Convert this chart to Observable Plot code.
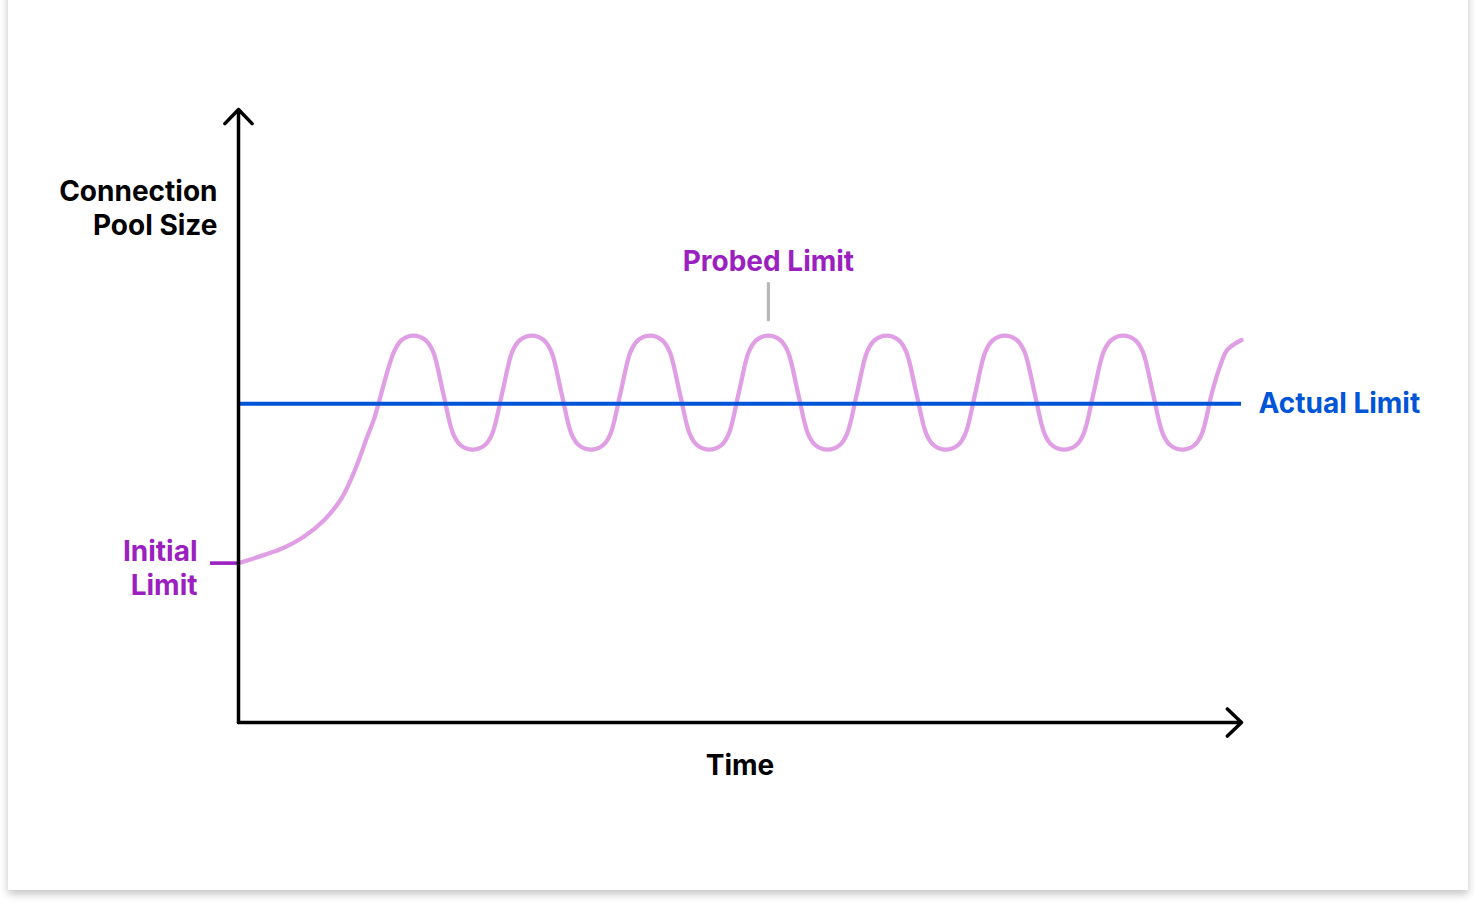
<!DOCTYPE html>
<html>
<head>
<meta charset="utf-8">
<title>Connection pool size over time</title>
<script src="https://cdn.jsdelivr.net/npm/d3@7"></script>
<script src="https://cdn.jsdelivr.net/npm/@observablehq/plot@0.6"></script>
<style>
  html, body { margin: 0; padding: 0; background: #ffffff; width: 1476px; height: 906px; overflow: hidden; }
  .card {
    position: absolute; left: 8px; top: -20px; width: 1460px; height: 910px;
    background: #ffffff;
    box-shadow: 0 4px 8px rgba(0, 0, 0, 0.24);
  }
  #chart { position: absolute; left: 0; top: 0; }
  #chart svg text { font-family: Inter, "Noto Sans", sans-serif; }
</style>
</head>
<body>
<div class="card"></div>
<div id="chart"></div>
<script>
// Time axis runs 0 .. timeEnd, pool size axis 0 .. sizeMax
const timeEnd = 84.8;
const sizeMax = 100;

// Limits
const initialLimit = 26;
const actualLimit = 52;

// Slow start: the pool grows from the initial limit towards the actual limit
const rampUp = [
  [0, 26.0], [2.14, 27.3], [3.83, 28.5], [5.52, 30.3], [7.23, 33.0],
  [8.62, 36.3], [9.47, 39.5], [10.17, 42.8], [10.88, 46.6], [11.44, 49.4]
];

// Probing: the pool overshoots the actual limit, backs off, and probes again
const probing = [
  [13.15, 60.5], [13.8, 62.4], [14.8, 63.1], [15.8, 62.4], [16.45, 60.5], [17.3, 53.8],
  [18.15, 47.1], [18.8, 45.2], [19.8, 44.5], [20.8, 45.2], [21.45, 47.1], [22.3, 53.8],
  [23.15, 60.5], [23.8, 62.4], [24.8, 63.1], [25.8, 62.4], [26.45, 60.5], [27.3, 53.8],
  [28.15, 47.1], [28.8, 45.2], [29.8, 44.5], [30.8, 45.2], [31.45, 47.1], [32.3, 53.8],
  [33.15, 60.5], [33.8, 62.4], [34.8, 63.1], [35.8, 62.4], [36.45, 60.5], [37.3, 53.8],
  [38.15, 47.1], [38.8, 45.2], [39.8, 44.5], [40.8, 45.2], [41.45, 47.1], [42.3, 53.8],
  [43.15, 60.5], [43.8, 62.4], [44.8, 63.1], [45.8, 62.4], [46.45, 60.5], [47.3, 53.8],
  [48.15, 47.1], [48.8, 45.2], [49.8, 44.5], [50.8, 45.2], [51.45, 47.1], [52.3, 53.8],
  [53.15, 60.5], [53.8, 62.4], [54.8, 63.1], [55.8, 62.4], [56.45, 60.5], [57.3, 53.8],
  [58.15, 47.1], [58.8, 45.2], [59.8, 44.5], [60.8, 45.2], [61.45, 47.1], [62.3, 53.8],
  [63.15, 60.5], [63.8, 62.4], [64.8, 63.1], [65.8, 62.4], [66.45, 60.5], [67.3, 53.8],
  [68.15, 47.1], [68.8, 45.2], [69.8, 44.5], [70.8, 45.2], [71.45, 47.1], [72.3, 53.8],
  [73.15, 60.5], [73.8, 62.4], [74.8, 63.1], [75.8, 62.4], [76.45, 60.5], [77.3, 53.8],
  [78.15, 47.1], [78.8, 45.2], [79.8, 44.5], [80.8, 45.2], [81.45, 47.1], [82.3, 53.8],
  [83.0, 58.2], [83.6, 60.8], [84.8, 62.4]
];

// The probe peak that carries the "Probed Limit" callout
const probedPeak = [44.8, 63.1];

// Labels
const yTitle = "Connection\nPool Size";
const xTitle = "Time";
const initialLabel = "Initial\nLimit";
const actualLabel = "Actual Limit";
const probedLabel = "Probed Limit";

const poolSize = [...rampUp, ...probing].map(([time, size]) => ({time, size}));
const axes = [
  {x1: 0, y1: 0, x2: 0, y2: sizeMax},
  {x1: 0, y1: 0, x2: timeEnd, y2: 0}
];

const pink = "#e09fe5";
const purple = "#9a21bf";
const blue = "#0055d6";
const gray = "#b8b8b8";
const font = {fontSize: 28, fontWeight: 700, lineHeight: 1.214, lineAnchor: "middle"};

const chart = Plot.plot({
  width: 1476,
  height: 906,
  marginLeft: 238,
  marginRight: 235,
  marginTop: 109,
  marginBottom: 184,
  x: {domain: [0, timeEnd], axis: null},
  y: {domain: [0, sizeMax], axis: null},
  style: {background: "transparent", fontFamily: "Inter, 'Noto Sans', sans-serif", overflow: "visible"},
  marks: [
    Plot.line(poolSize, {x: "time", y: "size", curve: "catmull-rom", stroke: pink, strokeWidth: 4.3}),
    Plot.ruleY([actualLimit], {stroke: blue, strokeWidth: 3.8}),
    Plot.ruleY([initialLimit], {x1: 0, x2: 0, insetLeft: -28, stroke: purple, strokeWidth: 3.6}),
    Plot.ruleX([probedPeak], {x: (d) => d[0], y1: (d) => d[1], y2: (d) => d[1], insetTop: -53, insetBottom: 14, stroke: gray, strokeWidth: 3.2}),
    Plot.arrow(axes, {
      x1: "x1", y1: "y1", x2: "x2", y2: "y2",
      stroke: "#000", strokeWidth: 3.5, headAngle: 88, headLength: 8.4,
      strokeLinecap: "round", strokeLinejoin: "round"
    }),
    Plot.text([yTitle], {text: (d) => d, frameAnchor: "top-left", textAnchor: "end", dx: -21, dy: 98, fill: "#000", ...font}),
    Plot.text([xTitle], {text: (d) => d, frameAnchor: "bottom", dy: 42, fill: "#000", ...font}),
    Plot.text([initialLimit], {x: 0, y: (d) => d, text: () => initialLabel, textAnchor: "end", dx: -41, dy: 4, fill: purple, ...font}),
    Plot.text([actualLimit], {x: timeEnd, y: (d) => d, text: () => actualLabel, textAnchor: "start", dx: 17, dy: -2, fill: blue, ...font}),
    Plot.text([probedPeak], {x: (d) => d[0], y: (d) => d[1], text: () => probedLabel, textAnchor: "middle", dy: -76, fill: purple, ...font})
  ]
});

document.getElementById("chart").appendChild(chart);
</script>
</body>
</html>
